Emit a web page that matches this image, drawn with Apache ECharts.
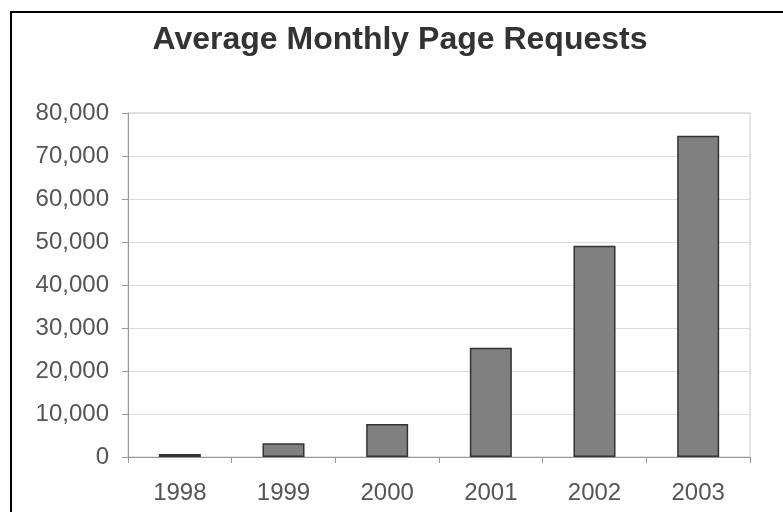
<!DOCTYPE html>
<html>
<head>
<meta charset="utf-8">
<script src="https://cdn.jsdelivr.net/npm/echarts@6/dist/echarts.min.js"></script>
<style>
  html, body { margin: 0; padding: 0; background: #fff; }
  #chart { width: 783px; height: 512px; }
</style>
</head>
<body>
<div id="chart"></div>
<script>
// data
var years = ['1998', '1999', '2000', '2001', '2002', '2003'];
var requests = [700, 3200, 7700, 25400, 49100, 74700];
var yTicks = [0, 80000, 10000]; // min, max, step

var myChart = echarts.init(document.getElementById('chart'));

var option = {
    animation: false,
    backgroundColor: '#fff',
    title: {
        text: 'Average Monthly Page Requests',
        left: 395,
        textAlign: 'center',
        top: 19,
        textStyle: {
            fontFamily: 'Liberation Sans',
            fontSize: 32,
            fontWeight: 'bold',
            color: '#333'
        }
    },
    // black frame round the whole chart
    graphic: [{
        type: 'rect',
        shape: { x: 11, y: 12, width: 800, height: 520 },
        style: { fill: null, stroke: '#000', lineWidth: 2 },
        silent: true
    }],
    grid: {
        left: 128,
        right: 33,
        top: 113,
        bottom: 55,
        show: true,
        borderColor: '#c8c8c8',
        borderWidth: 1
    },
    xAxis: {
        type: 'category',
        data: years,
        axisLine: { lineStyle: { color: '#999', width: 1 } },
        axisTick: { show: true, length: 6, lineStyle: { color: '#999' } },
        axisLabel: {
            margin: 24,
            fontFamily: 'Liberation Sans',
            fontSize: 24,
            color: '#555'
        }
    },
    yAxis: {
        type: 'value',
        min: yTicks[0],
        max: yTicks[1],
        interval: yTicks[2],
        axisLine: { show: true, lineStyle: { color: '#999', width: 1 } },
        axisTick: { show: true, length: 6, lineStyle: { color: '#999' } },
        splitLine: { lineStyle: { color: '#dcdcdc', width: 1 } },
        axisLabel: {
            margin: 19,
            fontFamily: 'Liberation Sans',
            fontSize: 24,
            color: '#555',
            formatter: function (v) {
                return v.toString().replace(/\B(?=(\d{3})+(?!\d))/g, ',');
            }
        }
    },
    series: [{
        type: 'bar',
        data: requests,
        barWidth: 42,
        itemStyle: {
            color: '#808080',
            borderColor: '#333',
            borderWidth: 1.5
        }
    }]
};

myChart.setOption(option);
</script>
</body>
</html>
